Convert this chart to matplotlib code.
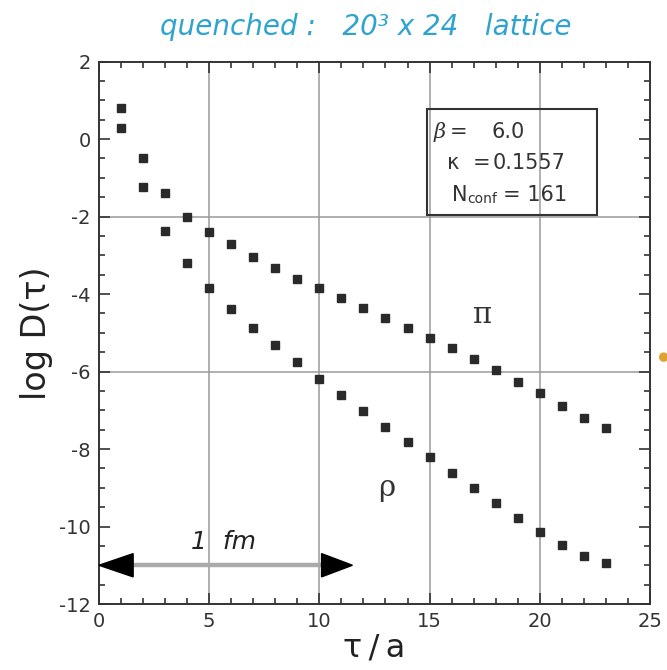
import numpy as np
import matplotlib
matplotlib.use("Agg")
import matplotlib.pyplot as plt
from matplotlib.ticker import MultipleLocator

plt.rcParams['font.family'] = ['DejaVu Sans']
plt.rcParams['axes.unicode_minus'] = False

# correlator data, log D(tau) vs tau/a
tau = np.arange(1, 24)
log_pi = [0.79, -0.48, -1.39, -2.00, -2.41, -2.72, -3.04, -3.32, -3.60, -3.85,
          -4.11, -4.37, -4.63, -4.89, -5.14, -5.40, -5.69, -5.96, -6.28, -6.56,
          -6.88, -7.19, -7.47]
log_rho = [0.28, -1.23, -2.37, -3.19, -3.85, -4.39, -4.87, -5.32, -5.76, -6.19,
           -6.61, -7.02, -7.42, -7.81, -8.21, -8.61, -9.01, -9.40, -9.79, -10.15,
           -10.48, -10.77, -10.93]

fig = plt.figure(figsize=(6.67, 6.70), dpi=100)
ax = fig.add_axes([0.1484, 0.0985, 0.826, 0.8097])

ax.set_xlim(0, 25)
ax.set_ylim(-12, 2)

# grid only at a few values
for x in [5, 10, 15, 20]:
    ax.axvline(x, color='#9a9a9a', lw=1.1, zorder=1)
for y in [-2, -6]:
    ax.axhline(y, color='#9a9a9a', lw=1.1, zorder=1)

ax.plot(tau, log_pi, 's', ms=5.2, color='#2a2a2a', mec='#2a2a2a', zorder=3)
ax.plot(tau, log_rho, 's', ms=5.2, color='#2a2a2a', mec='#2a2a2a', zorder=3)

ax.xaxis.set_major_locator(MultipleLocator(5))
ax.xaxis.set_minor_locator(MultipleLocator(1))
ax.yaxis.set_major_locator(MultipleLocator(2))
ax.yaxis.set_minor_locator(MultipleLocator(0.5))
ax.tick_params(which='both', direction='in', top=True, right=True,
               colors='#333333', labelsize=14, width=1.2, pad=6)
ax.tick_params(which='major', length=8)
ax.tick_params(which='minor', length=4.5)
for s in ax.spines.values():
    s.set_color('#333333')
    s.set_linewidth(1.4)

ax.set_xlabel('τ\u2009/\u2009a', fontsize=23, labelpad=1, color='#222222')
ax.set_ylabel('log D(τ)', fontsize=24, labelpad=4, color='#222222')

# 1 fm scale arrow
ax.plot([1.4, 10.2], [-11, -11], color='#aaaaaa', lw=3.2, zorder=2,
        solid_capstyle='butt')
ax.add_patch(plt.Polygon([[0, -11], [1.55, -10.7], [1.55, -11.3]],
                         closed=True, color='black', zorder=4, clip_on=False))
ax.add_patch(plt.Polygon([[11.5, -11], [10.1, -10.7], [10.1, -11.3]],
                         closed=True, color='black', zorder=4))
ax.text(5.65, -10.4, '1  fm', fontsize=18, style='italic', ha='center',
        va='center', color='#222222')

# channel labels
ax.text(17.4, -4.55, 'π', fontsize=21, family='DejaVu Serif', ha='center',
        va='center', color='#333333')
ax.text(13.05, -9.0, 'ρ', fontsize=21, family='DejaVu Serif', ha='center',
        va='center', color='#333333')

# run parameters box
ax.add_patch(plt.Rectangle((14.9, -1.97), 7.7, 2.74, fill=False,
                           ec='#333333', lw=1.5, zorder=5))
txt = dict(fontsize=15, va='center', color='#333333')
ax.text(15.2, 0.18, 'β', family='DejaVu Serif', style='italic', **txt)
ax.text(15.93, 0.18, '=', **txt)
ax.text(17.83, 0.18, '6.0', **txt)
ax.text(15.79, -0.62, 'κ', **txt)
ax.text(16.97, -0.62, '=', **txt)
ax.text(17.85, -0.62, '0.1557', **txt)
ax.text(16.0, -1.45, 'N', **txt)
ax.text(16.72, -1.55, 'conf', fontsize=10, va='center', color='#333333')
ax.text(18.33, -1.45, '= 161', **txt)

fig.text(0.548, 0.96, 'quenched :   20³ x 24   lattice', fontsize=20,
         style='italic', color='#2ea3cf', ha='center', va='center')

# small marker at the right edge
fig.add_artist(plt.Circle((0.995, 0.467), 0.006, color='#e0a330',
                          transform=fig.transFigure))

fig.savefig('out.png', dpi=100)
